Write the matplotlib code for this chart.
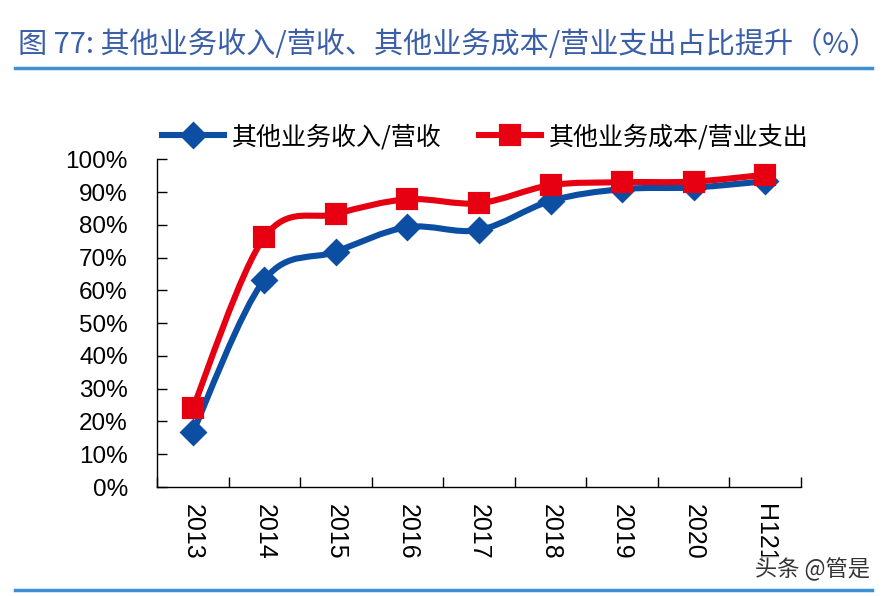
import matplotlib.pyplot as plt
from matplotlib.lines import Line2D
from matplotlib.path import Path
from matplotlib.patches import PathPatch
import numpy as np

plt.rcParams['font.family'] = ['Liberation Sans', 'Noto Sans CJK SC', 'DejaVu Sans']

# 数据
categories = ['2013', '2014', '2015', '2016', '2017', '2018', '2019', '2020', 'H121']
revenue_ratio = [16.7, 63.2, 71.8, 79.3, 78.4, 87.3, 90.9, 91.4, 93.3]
cost_ratio = [24.0, 76.2, 83.3, 87.8, 86.6, 92.1, 93.0, 93.2, 95.3]
label_rev = '其他业务收入/营收'
label_cost = '其他业务成本/营业支出'
title = '图 77: 其他业务收入/营收、其他业务成本/营业支出占比提升（%）'

blue = '#0B4EA2'
red = '#E60012'
line_blue = '#3D8FD6'


def smooth_path(xs, ys):
    # Catmull-Rom 转 Bezier，模拟 Excel 平滑线
    pts = np.column_stack([xs, ys])
    n = len(pts)
    verts = [pts[0]]
    codes = [Path.MOVETO]
    for i in range(n - 1):
        p0 = pts[i - 1] if i > 0 else pts[i]
        p1 = pts[i]
        p2 = pts[i + 1]
        p3 = pts[i + 2] if i + 2 < n else pts[i + 1]
        c1 = p1 + (p2 - p0) / 6
        c2 = p2 - (p3 - p1) / 6
        verts += [c1, c2, p2]
        codes += [Path.CURVE4] * 3
    return Path(verts, codes)


fig = plt.figure(figsize=(8.9, 5.96), dpi=100)
ax = fig.add_axes([157 / 890, 1 - 487 / 596, (801 - 157) / 890, (487 - 159.3) / 596])

x = np.arange(len(categories))
for vals, col in [(revenue_ratio, blue), (cost_ratio, red)]:
    p = smooth_path(x, np.array(vals) / 100)
    ax.add_patch(PathPatch(p, facecolor='none', edgecolor=col, lw=4.4,
                           capstyle='round', joinstyle='round', clip_on=False, zorder=3))

ax.plot(x, np.array(revenue_ratio) / 100, ls='none', marker='D', ms=12,
        mec=blue, mew=2, mfc=blue, clip_on=False, zorder=4)
ax.plot(x, np.array(cost_ratio) / 100, ls='none', marker='s', ms=13.5,
        mec=red, mew=3, mfc=red, clip_on=False, zorder=5)

ax.set_xlim(-0.5, len(categories) - 0.5)
ax.set_ylim(0, 1)
yt = np.arange(0, 1.01, 0.1)
ax.set_yticks(yt)
ax.set_yticklabels([f'{int(round(v * 100))}%' for v in yt], fontsize=17.5)
ax.tick_params(axis='y', direction='in', length=7, width=1, pad=21, colors='#000000')

ax.set_xticks(x)
ax.set_xticklabels(categories, fontsize=18, rotation=270, va='top', ha='center')
ax.set_xticks(np.arange(-0.5, len(categories)), minor=True)
ax.tick_params(axis='x', which='major', length=0, pad=12)
ax.tick_params(axis='x', which='minor', direction='in', length=7, width=1)

for s in ['top', 'right']:
    ax.spines[s].set_visible(False)
for s in ['left', 'bottom']:
    ax.spines[s].set_color('#000000')
    ax.spines[s].set_linewidth(1)

handles = [
    Line2D([], [], color=blue, lw=4.4, marker='D', ms=12, mec=blue, mew=2),
    Line2D([], [], color=red, lw=4.4, marker='s', ms=13.5, mec=red, mew=3),
]
fig.legend(handles, [label_rev, label_cost], loc='center', bbox_to_anchor=(0.545, 0.770),
           ncol=2, frameon=False, handlelength=2.5, columnspacing=1.5,
           handletextpad=0.3, prop={'family': ['Noto Sans CJK SC'], 'size': 18})

# 标题与分隔线
fig.text(18 / 890, 1 - 45 / 596, title, fontsize=21, color='#3A5FA8', va='center', ha='left',
         family=['Noto Sans CJK SC', 'DejaVu Sans'])
fig.add_artist(Line2D([15 / 890, 872 / 890], [1 - 68 / 596] * 2, color=line_blue, lw=2.5))
fig.add_artist(Line2D([15 / 890, 872 / 890], [1 - 590 / 596] * 2, color=line_blue, lw=2.5))

# 水印
fig.text(755 / 890, 1 - 569 / 596, '头条 @管是', fontsize=16, color='#333333', va='center',
         ha='left', family=['Noto Sans CJK SC'],
         bbox=dict(facecolor='white', edgecolor='none', pad=1, alpha=0.6))

fig.savefig('out.png', dpi=100)
